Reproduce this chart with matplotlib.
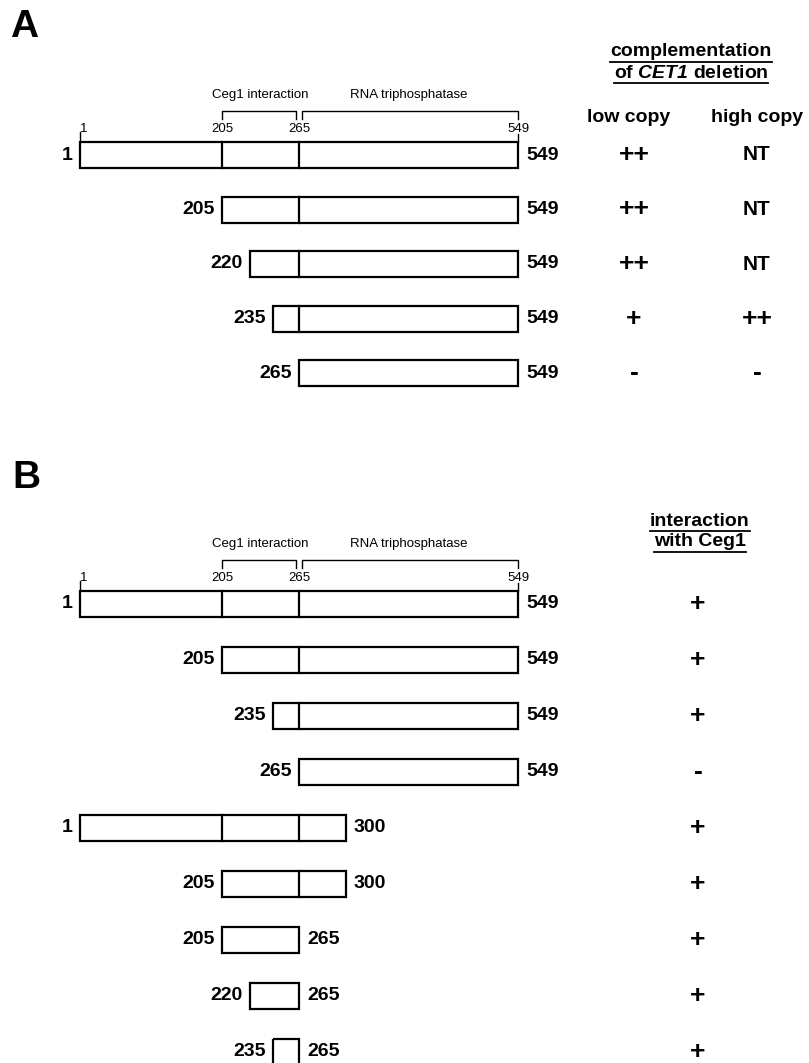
import matplotlib.pyplot as plt
import numpy as np

plt.rcParams['font.family'] = ['Liberation Sans', 'DejaVu Sans']
# math text is only used for the italic gene name
plt.rcParams['mathtext.fontset'] = 'custom'
plt.rcParams['mathtext.it'] = 'Liberation Sans:italic:bold'
plt.rcParams['mathtext.rm'] = 'Liberation Sans:italic:bold'

# constructs (residue numbers)
starts_a = [1, 205, 220, 235, 265]
ends_a = [549, 549, 549, 549, 549]
low_copy = ['++', '++', '++', '+', '-']
high_copy = ['NT', 'NT', 'NT', '++', '-']

starts_b = [1, 205, 235, 265, 1, 205, 205, 220, 235]
ends_b = [549, 549, 549, 549, 300, 300, 265, 265, 265]
with_ceg1 = ['+', '+', '+', '-', '+', '+', '+', '+', '+']

bounds = [205, 265]          # domain boundaries drawn inside boxes
full_len = [1, 205, 265, 549]  # numbers over the full-length box

# schematic is not to scale: piecewise residue -> pixel mapping
res_anchor = [1, 205, 220, 235, 265, 300, 549]
px_anchor = [80, 222, 250, 273, 299, 346, 518]


def rx(r):
    return np.interp(r, res_anchor, px_anchor)


fig = plt.figure(figsize=(8.09, 10.63), dpi=100)
ax = fig.add_axes([0, 0, 1, 1])
ax.set_xlim(0, 809)
ax.set_ylim(1063, 0)
ax.axis('off')

H = 26  # box height
LW = 1.6


def sign(x, y, s):
    # + / - marks are drawn a bit larger than letters
    fs = 15 if s == 'NT' else 19
    ax.text(x, y, s, ha='center', va='center', fontsize=fs, fontweight='bold')


def draw_row(y, s, e):
    x0, x1 = rx(s), rx(e)
    ax.add_patch(plt.Rectangle((x0, y - H / 2), x1 - x0, H, fill=False,
                               lw=LW, ec='black'))
    for b in bounds:
        if s < b < e:
            ax.plot([rx(b), rx(b)], [y - H / 2, y + H / 2], color='black', lw=LW)
    ax.text(x0 - 7, y, str(s), ha='right', va='center', fontsize=14,
            fontweight='bold')
    ax.text(x1 + 8, y, str(e), ha='left', va='center', fontsize=14,
            fontweight='bold')


def draw_domains(top):
    # top = y of first box top edge
    yb = top - 31
    ax.plot([rx(205), rx(205), rx(265) - 3, rx(265) - 3],
            [yb + 8, yb, yb, yb + 8], color='black', lw=1)
    ax.plot([rx(265) + 3, rx(265) + 3, rx(549), rx(549)],
            [yb + 8, yb, yb, yb + 8], color='black', lw=1)
    ax.text((rx(205) + rx(265)) / 2, top - 47, 'Ceg1 interaction',
            ha='center', va='center', fontsize=9.5)
    ax.text((rx(265) + rx(549)) / 2, top - 47, 'RNA triphosphatase',
            ha='center', va='center', fontsize=9.5)
    for r in full_len:
        ax.text(rx(r), top - 13, str(r), ha='left' if r == 1 else 'center',
                va='center', fontsize=9.5)
    ax.plot([rx(1), rx(1)], [top - 10, top], color='black', lw=1)
    ax.plot([rx(549), rx(549)], [top - 8, top], color='black', lw=1)


def underlined(x, y, s, **kw):
    t = ax.text(x, y, s, ha='center', va='center', fontsize=14,
                fontweight='bold', **kw)
    fig.canvas.draw()
    bb = t.get_window_extent().transformed(ax.transData.inverted())
    ax.plot([bb.x0, bb.x1], [bb.y0 + 1, bb.y0 + 1], color='black', lw=1.3)


# panel A
ax.text(10, 27, 'A', ha='left', va='center', fontsize=28, fontweight='bold')
rows_a = 155 + 54.5 * np.arange(len(starts_a))
draw_domains(rows_a[0] - H / 2)
for y, s, e, lo, hi in zip(rows_a, starts_a, ends_a, low_copy, high_copy):
    draw_row(y, s, e)
    sign(634, y, lo)
    sign(757, y, hi)
underlined(691, 52, 'complementation')
underlined(691, 73, r'of $CET1$ deletion')
ax.text(629, 117, 'low copy', ha='center', va='center', fontsize=14,
        fontweight='bold')
ax.text(757, 117, 'high copy', ha='center', va='center', fontsize=14,
        fontweight='bold')

# panel B
ax.text(12, 478, 'B', ha='left', va='center', fontsize=28, fontweight='bold')
rows_b = 604 + 56 * np.arange(len(starts_b))
draw_domains(rows_b[0] - H / 2)
for y, s, e, v in zip(rows_b, starts_b, ends_b, with_ceg1):
    draw_row(y, s, e)
    sign(698, y, v)
underlined(700, 521, 'interaction')
underlined(700, 542, 'with Ceg1')

fig.savefig('out.png', dpi=100)
